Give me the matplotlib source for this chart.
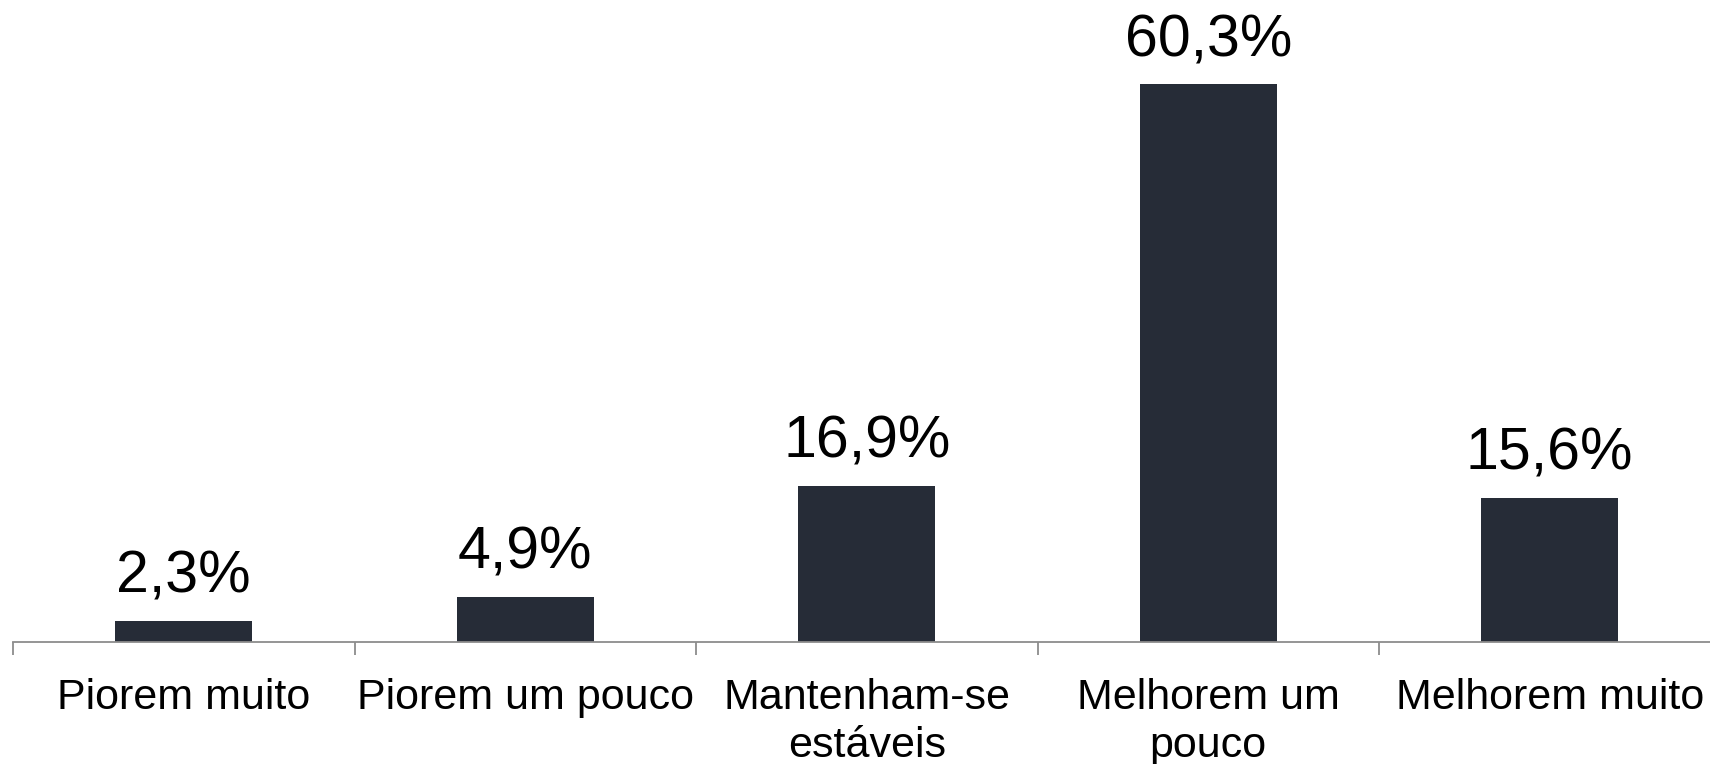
import numpy as np
import matplotlib
matplotlib.use("Agg")
import matplotlib.pyplot as plt

# dados do gráfico
categorias = ["Piorem muito", "Piorem um pouco", "Mantenham-se\nestáveis",
              "Melhorem um\npouco", "Melhorem muito"]
valores = [2.3, 4.9, 16.9, 60.3, 15.6]
rotulos = ["2,3%", "4,9%", "16,9%", "60,3%", "15,6%"]

plt.rcParams['font.family'] = ['Liberation Sans', 'DejaVu Sans']

fig = plt.figure(figsize=(17.1, 7.64), dpi=100)
ax = fig.add_axes([13 / 1710, 122 / 764, 1707.5 / 1710, 648 / 764])

x = np.arange(len(categorias))
ax.bar(x, valores, width=0.4, color='#262c37')

for xi, v, r in zip(x, valores, rotulos):
    ax.annotate(r, (xi, v), xytext=(0, 20), textcoords='offset points',
                ha='center', va='baseline', fontsize=42.5, color='black')

ax.set_xlim(-0.5, len(categorias) - 0.5)
ax.set_ylim(0, 70)
ax.set_xticks(x)
ax.set_xticklabels(categorias, fontsize=31, linespacing=1.25)
ax.set_xticks(np.arange(-0.5, len(categorias)), minor=True)
ax.tick_params(axis='x', which='major', length=0, pad=26)
ax.tick_params(axis='x', which='minor', length=9.4, width=1.3, color='#8c8c8c', direction='out')
ax.set_yticks([])

for s in ['top', 'right', 'left']:
    ax.spines[s].set_visible(False)
ax.spines['bottom'].set_color('#8c8c8c')
ax.spines['bottom'].set_linewidth(1.3)

fig.savefig('out.png', dpi=100)
